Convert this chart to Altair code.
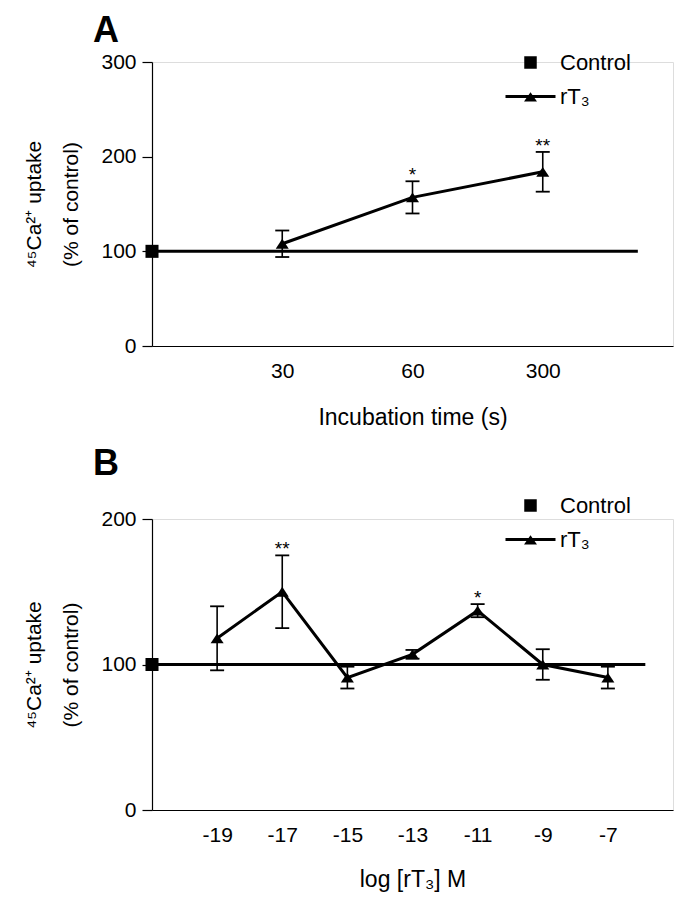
import altair as alt
import pandas as pd

FONT = "Liberation Sans"
INK = "#000000"

# ---------------- data ----------------
control_value = 100
series_names = ["Control", "rT₃"]

# Panel A: incubation time
a_times = ["30", "60", "300"]
a_mean = [108, 157, 184]
a_sem = [14, 17, 21]
a_stars = ["", "*", "**"]

# Panel B: log [rT3] M
b_logM = [-19, -17, -15, -13, -11, -9, -7]
b_mean = [118, 150, 91, 107, 137, 100, 91]
b_sem = [22, 25, 7.5, 3, 4.5, 10.5, 7.5]
b_stars = ["", "**", "", "", "*", "", ""]

# ---------------- shapes ----------------
TRI = "M-1,0.75L0,-0.75L1,0.75Z"
LEG_SQUARE = "M-0.5,-0.5H0.5V0.5H-0.5Z"
LEG_LINE_TRI = "M-2,-0.12H2V0.12H-2ZM-0.52,0.4L0,-0.35L0.52,0.4Z"


def panel(df, xpos_field, x_domain, x_values, label_expr, ctrl_x, ctrl_x2,
          y_domain, y_values, width, height, letter, x_title, x_title_pad,
          legend_y, title_offset):
    base = alt.Chart(df)
    xs = alt.Scale(domain=x_domain, nice=False, zero=False)
    ys = alt.Scale(domain=y_domain, nice=False, zero=False)

    x_axis = alt.Axis(values=x_values, labelExpr=label_expr, ticks=False,
                      grid=False, labelPadding=14, labelFontSize=21,
                      labelFont=FONT, labelColor=INK, domainColor=INK,
                      domainWidth=1.2, title=x_title, titleFont=FONT,
                      titleFontSize=23, titleFontWeight="normal",
                      titleColor=INK, titlePadding=x_title_pad)
    y_axis = alt.Axis(values=y_values, grid=False, tickSize=10, tickWidth=1.2,
                      tickColor=INK, domainColor=INK, domainWidth=1.2,
                      labelFontSize=21, labelFont=FONT, labelColor=INK,
                      labelPadding=6,
                      title=["⁴⁵Ca²⁺ uptake", "(% of control)"],
                      titleFont=FONT, titleFontSize=21, titleLineHeight=37,
                      titleFontWeight="normal", titleColor=INK,
                      titlePadding=19)

    ctrl_df = pd.DataFrame({"x": [ctrl_x], "x2": [ctrl_x2],
                            "y": [control_value]})
    ctrl = alt.Chart(ctrl_df)

    control_line = ctrl.mark_rule(color=INK, strokeWidth=3).encode(
        x=alt.X("x:Q", scale=xs, axis=x_axis),
        x2="x2:Q",
        y=alt.Y("y:Q", scale=ys, axis=y_axis),
    )
    control_point = ctrl.mark_point(shape="square", filled=True, color=INK,
                                    opacity=1, size=170).encode(
        x="x:Q", y="y:Q")

    err = base.mark_rule(color=INK, strokeWidth=1.6).encode(
        x=f"{xpos_field}:Q", y="lo:Q", y2="hi:Q")
    cap_hi = base.mark_tick(color=INK, orient="horizontal", size=14,
                            thickness=1.8, opacity=1).encode(
        x=f"{xpos_field}:Q", y="hi:Q")
    cap_lo = base.mark_tick(color=INK, orient="horizontal", size=14,
                            thickness=1.8, opacity=1).encode(
        x=f"{xpos_field}:Q", y="lo:Q")
    line = base.mark_line(color=INK, strokeWidth=3).encode(
        x=f"{xpos_field}:Q", y="mean:Q")
    pts = base.mark_point(shape=TRI, filled=True, color=INK, opacity=1,
                          size=170).encode(
        x=f"{xpos_field}:Q", y="mean:Q")
    stars = base.mark_text(font=FONT, fontSize=19, color=INK,
                           baseline="bottom", dy=4).encode(
        x=f"{xpos_field}:Q", y="hi:Q", text="star:N")

    leg_df = pd.DataFrame({"series": series_names})
    legend = alt.Chart(leg_df).mark_point(
        filled=True, color=INK, opacity=0,
    ).encode(
        shape=alt.Shape(
            "series:N",
            scale=alt.Scale(domain=series_names,
                            range=[LEG_SQUARE, LEG_LINE_TRI]),
            legend=alt.Legend(
                title=None, orient="none", legendX=width - 155,
                legendY=legend_y, symbolSize=625, symbolOpacity=1,
                symbolFillColor=INK, symbolStrokeWidth=0,
                labelFont=FONT, labelFontSize=22,
                labelColor=INK, labelOffset=17, rowPadding=10, padding=0,
            ),
        )
    )

    return alt.layer(
        control_line, err, cap_hi, cap_lo, line, pts, control_point, stars,
        legend,
    ).properties(
        width=width, height=height,
        title=alt.TitleParams(letter, anchor="start", frame="group",
                              font=FONT, fontSize=36, fontWeight="bold",
                              color=INK, dx=-59, offset=title_offset),
    )


# build tables
a_df = pd.DataFrame({
    "pos": list(range(1, len(a_times) + 1)),
    "mean": a_mean, "sem": a_sem, "star": a_stars,
})
a_df["lo"] = a_df["mean"] - a_df["sem"]
a_df["hi"] = a_df["mean"] + a_df["sem"]

b_df = pd.DataFrame({"logM": b_logM, "mean": b_mean, "sem": b_sem,
                     "star": b_stars})
b_df["lo"] = b_df["mean"] - b_df["sem"]
b_df["hi"] = b_df["mean"] + b_df["sem"]

a_label_expr = f"{a_times}[datum.value - 1]"
chart_a = panel(a_df, "pos", [0, 4], [1, 2, 3], a_label_expr, 0, 3.73,
                [0, 300], [0, 100, 200, 300], 521, 284, "A",
                "Incubation time (s)", 25, -12, 0)
chart_b = panel(b_df, "logM", [-21, -5], b_logM, "'' + datum.value", -21,
                -5.85, [0, 200], [0, 100, 200], 521, 291, "B",
                "log [rT₃] M", 23, -26, 10)

chart = alt.vconcat(chart_a, chart_b, spacing=15).resolve_scale(
    shape="independent"
).configure_view(stroke=None).configure(
    padding={"left": 15, "top": 4, "right": 0, "bottom": 0}
)

chart.save("out.html", embed_options={"renderer": "svg", "actions": False})
